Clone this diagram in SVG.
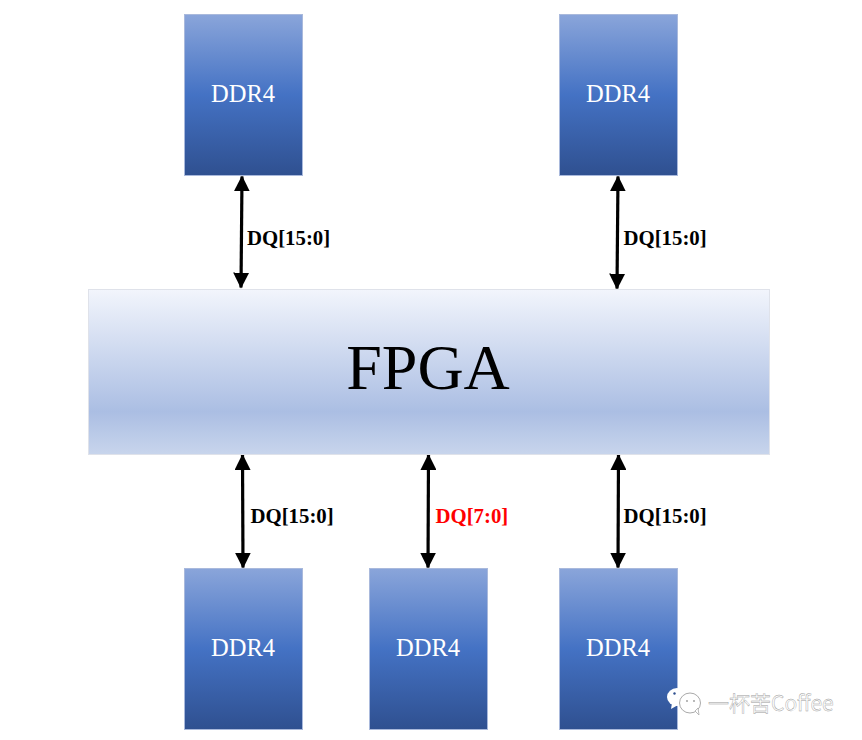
<svg xmlns="http://www.w3.org/2000/svg" width="862" height="740" viewBox="0 0 862 740">
<style>
.ddr{fill:url(#g1);stroke:#a9b9dc;stroke-width:1}
.t{font-family:"Liberation Serif","Times New Roman",serif}
.dt{font-size:24.500px;fill:#fff;text-anchor:middle}
.lb{font-size:20.800px;font-weight:bold;fill:#000}
.c{stroke:#000;stroke-width:3.2;fill:none;marker-start:url(#a);marker-end:url(#a)}
</style>
<defs>
<linearGradient id="g1" x1="0" y1="0" x2="0" y2="1">
<stop offset="0" stop-color="#8aa5da"/><stop offset="0.5" stop-color="#4472c4"/><stop offset="1" stop-color="#2f5090"/>
</linearGradient>
<linearGradient id="g2" x1="0" y1="0" x2="0" y2="1">
<stop offset="0" stop-color="#f2f5fc"/><stop offset="0.74" stop-color="#abbee3"/><stop offset="1" stop-color="#c8d5ec"/>
</linearGradient>
<marker id="a" viewBox="0 0 15 15" refX="14" refY="7.500" markerWidth="16" markerHeight="16" markerUnits="userSpaceOnUse" orient="auto-start-reverse">
<path d="M0 0L15 7.500L0 15Z" fill="#000"/>
</marker>
</defs>
<g id="connectors">
<line class="c" x1="242" y1="176.500" x2="241" y2="287.500"/>
<line class="c" x1="618" y1="176.500" x2="617" y2="288.500"/>
<line class="c" x1="242.500" y1="455" x2="243" y2="567.500"/>
<line class="c" x1="428.500" y1="455" x2="428" y2="567.500"/>
<line class="c" x1="618.500" y1="455" x2="618" y2="567.500"/>
</g>
<g id="ddr-top-left"><rect class="ddr" x="184.500" y="14.500" width="118" height="161"/><text class="t dt" x="243" y="102">DDR4</text></g>
<g id="ddr-top-right"><rect class="ddr" x="559.500" y="14.500" width="118" height="161"/><text class="t dt" x="618" y="102">DDR4</text></g>
<g id="fpga"><rect x="88.500" y="289.500" width="681" height="165" fill="url(#g2)" stroke="#dfe2ea"/><text class="t" x="428" y="389" font-size="64" text-anchor="middle" fill="#000">FPGA</text></g>
<g id="ddr-bottom-left"><rect class="ddr" x="184.500" y="568.500" width="118" height="161"/><text class="t dt" x="243" y="656">DDR4</text></g>
<g id="ddr-bottom-mid"><rect class="ddr" x="369.500" y="568.500" width="118" height="161"/><text class="t dt" x="428" y="656">DDR4</text></g>
<g id="ddr-bottom-right"><rect class="ddr" x="559.500" y="568.500" width="118" height="161"/><text class="t dt" x="618" y="656">DDR4</text></g>
<g id="labels">
<text class="t lb" x="247" y="245">DQ[15:0]</text>
<text class="t lb" x="623.500" y="245">DQ[15:0]</text>
<text class="t lb" x="250.500" y="523">DQ[15:0]</text>
<text class="t lb" x="435.500" y="523" style="fill:#f00">DQ[7:0]</text>
<text class="t lb" x="623.500" y="523">DQ[15:0]</text>
</g>
<g id="watermark">
<ellipse cx="677" cy="697" rx="10" ry="9" fill="#fff"/>
<path d="M672 703L671 709L678 705Z" fill="#fff"/>
<circle cx="674.500" cy="693.500" r="1.200" fill="#2f5090"/>
<ellipse cx="690" cy="703" rx="10.500" ry="10" fill="#fff" stroke="#aaa" stroke-width="1"/>
<path d="M695 711L699 715L698 708Z" fill="#fff" stroke="#aaa" stroke-width="0.800"/>
<circle cx="687" cy="701" r="0.900" fill="#999"/><circle cx="694" cy="701" r="0.900" fill="#999"/>
<text x="708" y="711" font-family="'Noto Sans CJK SC','Noto Sans',sans-serif" font-size="21" fill="#fff" stroke="#999" stroke-width="0.400">一杯苦Coffee</text>
</g>
</svg>
